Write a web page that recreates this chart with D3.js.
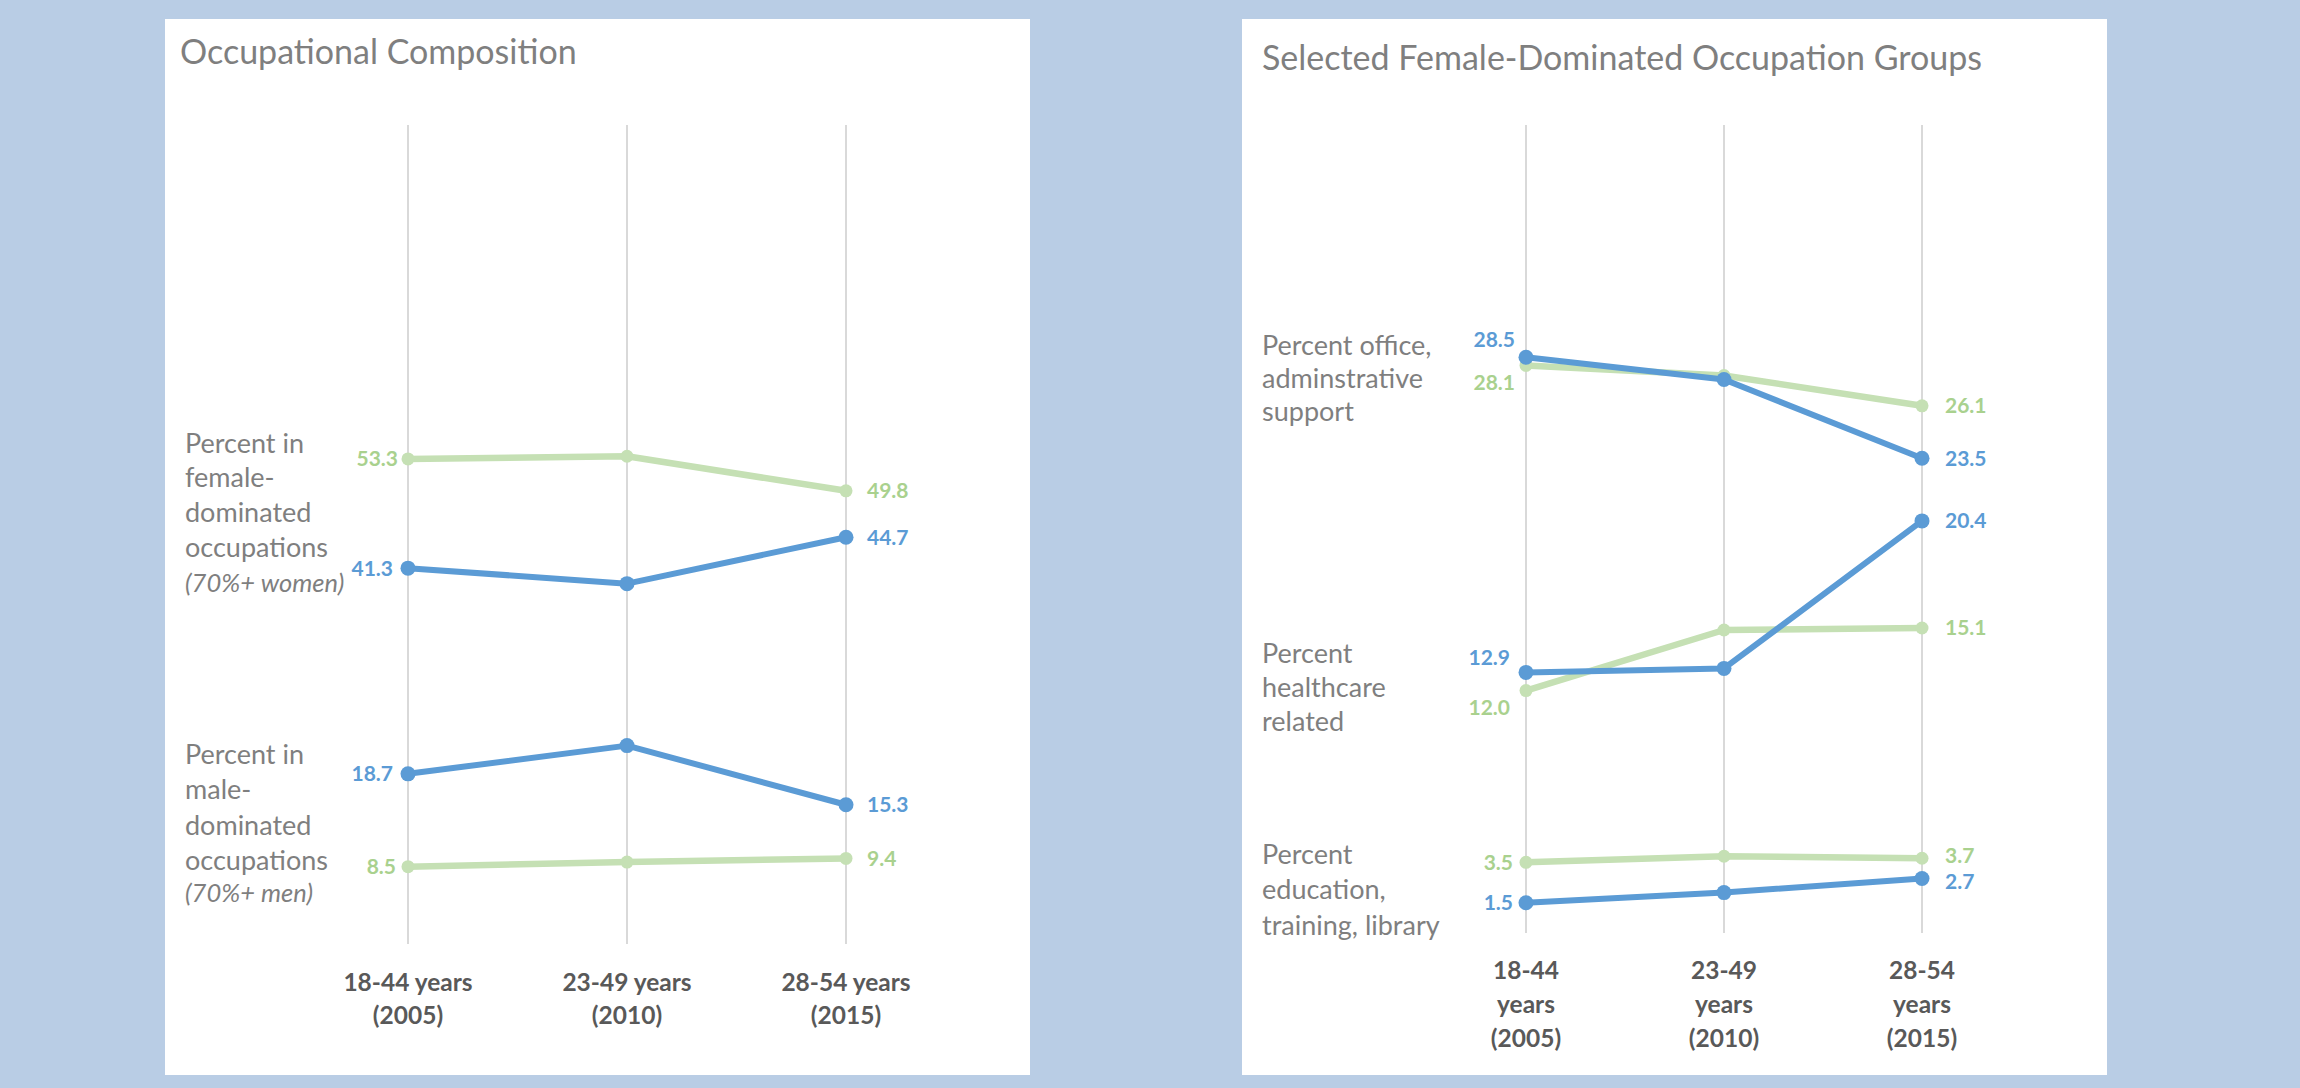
<!DOCTYPE html>
<html>
<head>
<meta charset="utf-8">
<script src="https://cdn.jsdelivr.net/npm/d3@7"></script>
<style>
  html, body { margin: 0; padding: 0; background: #b9cde5; }
  svg { display: block; }
  text { font-family: Lato, "Open Sans", sans-serif; }
</style>
</head>
<body>
<svg id="chart" width="2300" height="1088"></svg>
<script>
// ---------------- DATA ----------------
const periods = ["2005", "2010", "2015"];

// Left chart: Occupational Composition
const leftCatLabels = [["18-44 years", "(2005)"], ["23-49 years", "(2010)"], ["28-54 years", "(2015)"]];
const femaleDomGreen = [53.3, 53.6, 49.8];
const femaleDomBlue  = [41.3, 39.6, 44.7];
const maleDomBlue    = [18.7, 21.8, 15.3];
const maleDomGreen   = [8.5, 9.0, 9.4];
const leftGroupFemale = ["Percent in", "female-", "dominated", "occupations", "(70%+ women)"];
const leftGroupMale   = ["Percent in", "male-", "dominated", "occupations", "(70%+ men)"];

// Right chart: Selected Female-Dominated Occupation Groups
const rightCatLabels = [["18-44", "years", "(2005)"], ["23-49", "years", "(2010)"], ["28-54", "years", "(2015)"]];
const officeGreen = [28.1, 27.6, 26.1];
const officeBlue  = [28.5, 27.4, 23.5];
const healthGreen = [12.0, 15.0, 15.1];
const healthBlue  = [12.9, 13.1, 20.4];
const eduGreen    = [3.5, 3.8, 3.7];
const eduBlue     = [1.5, 2.0, 2.7];
const rightGroupOffice = ["Percent office,", "adminstrative", "support"];
const rightGroupHealth = ["Percent", "healthcare", "related"];
const rightGroupEdu    = ["Percent", "education,", "training, library"];

// ---------------- STYLE ----------------
const C = {
  bg: "#b9cde5",
  panel: "#ffffff",
  grid: "#d9d9d9",
  title: "#7f7f7f",
  group: "#7f7f7f",
  cat: "#595959",
  blue: "#5b9bd5",
  green: "#c5e0b4",
  greenText: "#a9d18e"
};
const STY = {
  blue:  { stroke: C.blue,  width: 6, r: 7.5, text: C.blue },
  green: { stroke: C.green, width: 6.5, r: 6.5, text: C.greenText }
};

const svg = d3.select("#chart");
svg.append("rect").attr("width", 2300).attr("height", 1088).attr("fill", C.bg);

function drawPanel(p) {
  const g = svg.append("g");
  g.append("rect").attr("x", p.x0).attr("y", p.y0).attr("width", p.w).attr("height", p.h).attr("fill", C.panel);

  g.append("text").attr("x", p.titleX).attr("y", p.titleY)
    .attr("font-size", 34).attr("fill", C.title).text(p.title);

  const x = d3.scalePoint().domain(periods).range(p.xRange);
  const y = d3.scaleLinear().domain(p.yDomain).range(p.yRange);

  // vertical gridlines
  g.selectAll("line.grid").data(periods).join("line")
    .attr("class", "grid")
    .attr("x1", d => x(d)).attr("x2", d => x(d))
    .attr("y1", y(p.yDomain[1])).attr("y2", y(p.yDomain[0]))
    .attr("stroke", C.grid).attr("stroke-width", 2);

  // category labels
  periods.forEach((per, i) => {
    p.catLabels[i].forEach((line, j) => {
      g.append("text").attr("x", x(per)).attr("y", p.catY[j])
        .attr("text-anchor", "middle").attr("dy", "0.35em")
        .attr("font-size", p.catSize).attr("font-weight", 700).attr("fill", C.cat)
        .text(line);
    });
  });

  // group labels
  p.groups.forEach(gr => {
    gr.lines.forEach((line, j) => {
      const t = g.append("text").attr("x", p.groupX).attr("y", gr.y[j])
        .attr("dy", "0.35em").attr("font-size", p.groupSize).attr("fill", C.group)
        .text(line);
      if (gr.italic && j === gr.lines.length - 1) t.attr("font-style", "italic").attr("font-size", p.groupSize - 1.5);
    });
  });

  const lineGen = d3.line().x((d, i) => x(periods[i])).y(d => y(d));

  p.series.forEach(s => {
    const st = STY[s.color];
    g.append("path").datum(s.values)
      .attr("d", lineGen).attr("fill", "none")
      .attr("stroke", st.stroke).attr("stroke-width", st.width)
      .attr("stroke-linejoin", "round").attr("stroke-linecap", "round");
    g.selectAll(null).data(s.values).join("circle")
      .attr("cx", (d, i) => x(periods[i])).attr("cy", d => y(d))
      .attr("r", st.r).attr("fill", st.stroke);
    const n = s.values.length;
    // first label (left side)
    g.append("text")
      .attr("x", x(periods[0]) - s.leftGap)
      .attr("y", y(s.values[0]) + (s.leftDy || 0))
      .attr("dy", "0.35em").attr("text-anchor", "end")
      .attr("font-size", p.valSize).attr("font-weight", 700).attr("fill", st.text)
      .text(d3.format(".1f")(s.values[0]));
    // last label (right side)
    g.append("text")
      .attr("x", x(periods[n - 1]) + p.rightGap)
      .attr("y", y(s.values[n - 1]) + (s.rightDy || 0))
      .attr("dy", "0.35em").attr("text-anchor", "start")
      .attr("font-size", p.valSize).attr("font-weight", 700).attr("fill", st.text)
      .text(d3.format(".1f")(s.values[n - 1]));
  });
}

drawPanel({
  x0: 165, y0: 19, w: 865, h: 1056,
  title: "Occupational Composition", titleX: 180, titleY: 64,
  xRange: [408, 846], yDomain: [0, 90], yRange: [944, 125],
  catLabels: leftCatLabels, catY: [982, 1015], catSize: 24.5,
  groupX: 185, groupSize: 27,
  groups: [
    { lines: leftGroupFemale, y: [444, 478, 513, 548, 583], italic: true },
    { lines: leftGroupMale, y: [755, 790, 826, 861, 893], italic: true }
  ],
  valSize: 21, rightGap: 21,
  series: [
    { values: femaleDomGreen, color: "green", leftGap: 10 },
    { values: maleDomGreen, color: "green", leftGap: 12 },
    { values: femaleDomBlue, color: "blue", leftGap: 15 },
    { values: maleDomBlue, color: "blue", leftGap: 15 }
  ]
});

drawPanel({
  x0: 1242, y0: 19, w: 865, h: 1056,
  title: "Selected Female-Dominated Occupation Groups", titleX: 1262, titleY: 70,
  xRange: [1526, 1922], yDomain: [0, 40], yRange: [933, 125],
  catLabels: rightCatLabels, catY: [970, 1004, 1038], catSize: 24.5,
  groupX: 1262, groupSize: 27,
  groups: [
    { lines: rightGroupOffice, y: [346, 379, 412] },
    { lines: rightGroupHealth, y: [654, 688, 722] },
    { lines: rightGroupEdu, y: [855, 890, 926] }
  ],
  valSize: 21, rightGap: 23,
  series: [
    { values: officeGreen, color: "green", leftGap: 11, leftDy: 17 },
    { values: healthGreen, color: "green", leftGap: 16, leftDy: 17 },
    { values: eduGreen, color: "green", leftGap: 13, rightDy: -3 },
    { values: officeBlue, color: "blue", leftGap: 11, leftDy: -18 },
    { values: healthBlue, color: "blue", leftGap: 16, leftDy: -15 },
    { values: eduBlue, color: "blue", leftGap: 13, rightDy: 3 }
  ]
});
</script>
</body>
</html>
